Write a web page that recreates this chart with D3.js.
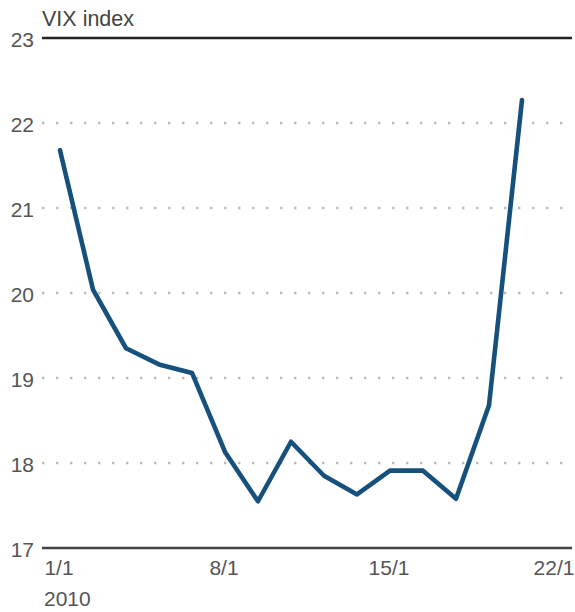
<!DOCTYPE html>
<html><head><meta charset="utf-8">
<script src="https://cdn.jsdelivr.net/npm/d3@7"></script>
<style>body{margin:0;background:#fff;}svg{display:block;font-family:"Liberation Sans",Arial,sans-serif;}</style>
</head><body>
<script>
const dates = ["31/12","4/1","5/1","6/1","7/1","8/1","11/1","12/1","13/1","14/1","15/1","18/1","19/1","20/1","21/1"];
const vix = [21.68, 20.04, 19.35, 19.16, 19.06, 18.13, 17.55, 18.25, 17.85, 17.63, 17.91, 17.91, 17.58, 18.68, 22.27];
const yTicks = [17, 18, 19, 20, 21, 22, 23];
const xTickPos = [0, 5, 10, 15];
const xTickLabels = ["1/1", "8/1", "15/1", "22/1"];
const yearLabel = "2010";
const title = "VIX index";

const W = 575, H = 612;
const FS = 21;
const svg = d3.select("body").append("svg").attr("width", W).attr("height", H);
const x = d3.scaleLinear().domain([0, 14]).range([60, 522]);
const y = d3.scaleLinear().domain([17, 23]).range([548, 38]);
const gx0 = 42, gx1 = 572;

// gridlines
svg.append("g").selectAll("line").data(yTicks).join("line")
  .attr("x1", gx0).attr("x2", gx1)
  .attr("y1", d => y(d)).attr("y2", d => y(d))
  .attr("stroke", d => (d === 17 ? "#444" : d === 23 ? "#222" : "#bbb"))
  .attr("stroke-width", d => (d === 17 || d === 23) ? 2.6 : 2.4)
  .attr("stroke-dasharray", d => (d === 17 || d === 23) ? null : "2.4 11.6")
  .attr("stroke-linecap", "butt");

// y labels
svg.append("g").selectAll("text").data(yTicks).join("text")
  .attr("x", 34).attr("y", d => y(d) + 8.5)
  .attr("text-anchor", "end").attr("font-size", FS).attr("fill", "#555")
  .text(d => d);

// title
svg.append("text").attr("x", 42).attr("y", 26).attr("font-size", FS + 0.5).attr("fill", "#444").text(title);

// x labels
svg.append("g").selectAll("text").data(xTickPos).join("text")
  .attr("x", d => x(d) - 1).attr("y", 575)
  .attr("text-anchor", "middle").attr("font-size", FS).attr("fill", "#555")
  .text((d, i) => xTickLabels[i]);
svg.append("text").attr("x", 44).attr("y", 606).attr("font-size", FS).attr("fill", "#555").text(yearLabel);

// line
const line = d3.line().x((d, i) => x(i)).y(d => y(d));
svg.append("path").datum(vix).attr("d", line)
  .attr("fill", "none").attr("stroke", "#16507d").attr("stroke-width", 4.6)
  .attr("stroke-linejoin", "round").attr("stroke-linecap", "round");
</script>
</body></html>
